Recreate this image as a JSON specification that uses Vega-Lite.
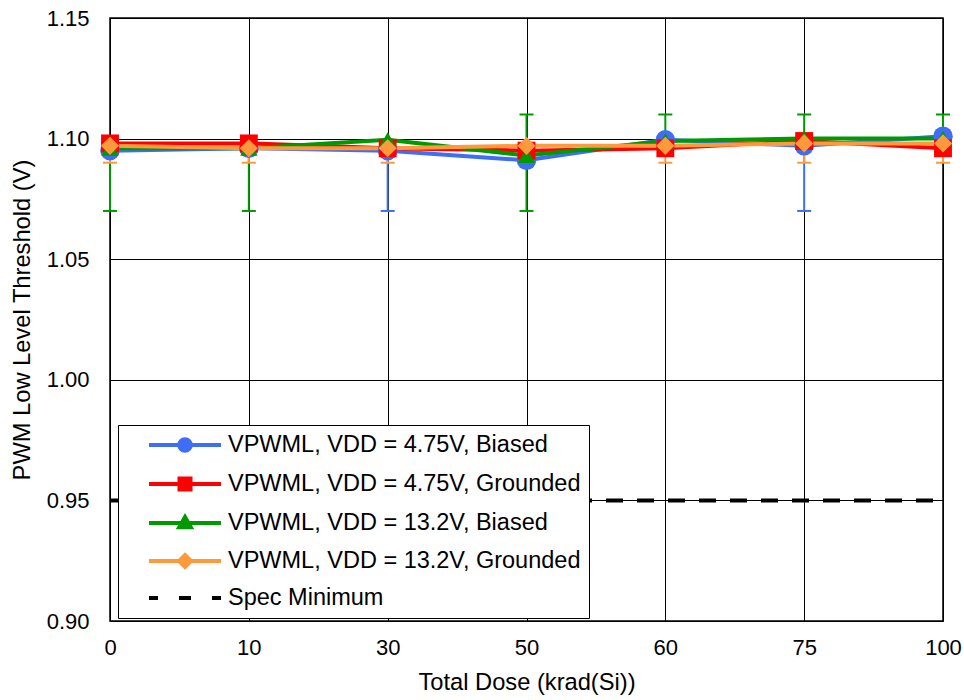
{
  "$schema": "https://vega.github.io/schema/vega-lite/v6.json",
  "width": 833,
  "height": 603,
  "autosize": {"type": "none"},
  "padding": {"left": 110, "top": 18, "right": 21, "bottom": 79},
  "background": "white",
  "config": {
    "view": {"stroke": "black", "strokeWidth": 1.5},
    "font": "Liberation Sans",
    "axis": {
      "labelFont": "Liberation Sans", "labelFontSize": 22, "labelColor": "black",
      "titleFont": "Liberation Sans", "titleFontSize": 23.7, "titleColor": "black", "titleFontWeight": "normal",
      "grid": true, "gridColor": "black", "gridWidth": 1, "gridOpacity": 1,
      "ticks": false, "domain": false
    }
  },
  "datasets": {
    "main": [
      {"dose": 0, "series": "VPWML, VDD = 4.75V, Biased", "v": 1.095},
      {"dose": 10, "series": "VPWML, VDD = 4.75V, Biased", "v": 1.096},
      {"dose": 30, "series": "VPWML, VDD = 4.75V, Biased", "v": 1.095},
      {"dose": 50, "series": "VPWML, VDD = 4.75V, Biased", "v": 1.091},
      {"dose": 60, "series": "VPWML, VDD = 4.75V, Biased", "v": 1.0995},
      {"dose": 75, "series": "VPWML, VDD = 4.75V, Biased", "v": 1.097},
      {"dose": 100, "series": "VPWML, VDD = 4.75V, Biased", "v": 1.101},
      {"dose": 0, "series": "VPWML, VDD = 4.75V, Grounded", "v": 1.098},
      {"dose": 10, "series": "VPWML, VDD = 4.75V, Grounded", "v": 1.098},
      {"dose": 30, "series": "VPWML, VDD = 4.75V, Grounded", "v": 1.096},
      {"dose": 50, "series": "VPWML, VDD = 4.75V, Grounded", "v": 1.095},
      {"dose": 60, "series": "VPWML, VDD = 4.75V, Grounded", "v": 1.096},
      {"dose": 75, "series": "VPWML, VDD = 4.75V, Grounded", "v": 1.099},
      {"dose": 100, "series": "VPWML, VDD = 4.75V, Grounded", "v": 1.096},
      {"dose": 0, "series": "VPWML, VDD = 13.2V, Biased", "v": 1.096},
      {"dose": 10, "series": "VPWML, VDD = 13.2V, Biased", "v": 1.096},
      {"dose": 30, "series": "VPWML, VDD = 13.2V, Biased", "v": 1.0995},
      {"dose": 50, "series": "VPWML, VDD = 13.2V, Biased", "v": 1.093},
      {"dose": 60, "series": "VPWML, VDD = 13.2V, Biased", "v": 1.099},
      {"dose": 75, "series": "VPWML, VDD = 13.2V, Biased", "v": 1.1},
      {"dose": 100, "series": "VPWML, VDD = 13.2V, Biased", "v": 1.1},
      {"dose": 0, "series": "VPWML, VDD = 13.2V, Grounded", "v": 1.097},
      {"dose": 10, "series": "VPWML, VDD = 13.2V, Grounded", "v": 1.096},
      {"dose": 30, "series": "VPWML, VDD = 13.2V, Grounded", "v": 1.096},
      {"dose": 50, "series": "VPWML, VDD = 13.2V, Grounded", "v": 1.097},
      {"dose": 60, "series": "VPWML, VDD = 13.2V, Grounded", "v": 1.097},
      {"dose": 75, "series": "VPWML, VDD = 13.2V, Grounded", "v": 1.098},
      {"dose": 100, "series": "VPWML, VDD = 13.2V, Grounded", "v": 1.098},
      {"dose": 0, "series": "Spec Minimum", "v": 0.95},
      {"dose": 10, "series": "Spec Minimum", "v": 0.95},
      {"dose": 30, "series": "Spec Minimum", "v": 0.95},
      {"dose": 50, "series": "Spec Minimum", "v": 0.95},
      {"dose": 60, "series": "Spec Minimum", "v": 0.95},
      {"dose": 75, "series": "Spec Minimum", "v": 0.95},
      {"dose": 100, "series": "Spec Minimum", "v": 0.95}
    ],
    "err": [
      {"dose": 0, "series": "VPWML, VDD = 13.2V, Biased", "v": 1.096, "e": 1.07},
      {"dose": 0, "series": "VPWML, VDD = 13.2V, Grounded", "v": 1.097, "e": 1.09},
      {"dose": 10, "series": "VPWML, VDD = 13.2V, Biased", "v": 1.096, "e": 1.07},
      {"dose": 10, "series": "VPWML, VDD = 13.2V, Grounded", "v": 1.096, "e": 1.09},
      {"dose": 30, "series": "VPWML, VDD = 4.75V, Biased", "v": 1.095, "e": 1.07},
      {"dose": 30, "series": "VPWML, VDD = 13.2V, Grounded", "v": 1.096, "e": 1.09},
      {"dose": 50, "series": "VPWML, VDD = 13.2V, Biased", "v": 1.093, "e": 1.07},
      {"dose": 50, "series": "VPWML, VDD = 13.2V, Biased", "v": 1.093, "e": 1.11},
      {"dose": 60, "series": "VPWML, VDD = 13.2V, Biased", "v": 1.099, "e": 1.11},
      {"dose": 60, "series": "VPWML, VDD = 13.2V, Grounded", "v": 1.097, "e": 1.09},
      {"dose": 75, "series": "VPWML, VDD = 4.75V, Biased", "v": 1.097, "e": 1.07},
      {"dose": 75, "series": "VPWML, VDD = 13.2V, Biased", "v": 1.1, "e": 1.11},
      {"dose": 75, "series": "VPWML, VDD = 13.2V, Grounded", "v": 1.098, "e": 1.09},
      {"dose": 100, "series": "VPWML, VDD = 13.2V, Biased", "v": 1.1, "e": 1.11},
      {"dose": 100, "series": "VPWML, VDD = 13.2V, Grounded", "v": 1.098, "e": 1.09}
    ]
  },
  "encoding": {
    "x": {
      "field": "dose", "type": "ordinal",
      "scale": {"type": "point", "padding": 0, "domain": [0, 10, 30, 50, 60, 75, 100]},
      "axis": {"labelAngle": 0, "labelPadding": 16, "title": "Total Dose (krad(Si))", "titlePadding": 12}
    },
    "y": {
      "field": "v", "type": "quantitative",
      "scale": {"domain": [0.9, 1.15], "nice": false, "zero": false},
      "axis": {"values": [0.9, 0.95, 1.0, 1.05, 1.1, 1.15], "format": ".2f", "labelPadding": 21, "title": "PWM Low Level Threshold (V)", "titlePadding": 12}
    }
  },
  "layer": [
    {
      "data": {"name": "main"},
      "transform": [{"filter": "datum.series == 'Spec Minimum'"}],
      "mark": {"type": "line", "color": "black", "strokeWidth": 4, "strokeDash": [17, 14]},
      "encoding": {}
    },
    {
      "data": {"name": "err"},
      "mark": {"type": "rule", "strokeWidth": 2},
      "encoding": {
        "y2": {"field": "e"},
        "color": {"field": "series", "type": "nominal"}
      }
    },
    {
      "data": {"name": "err"},
      "mark": {"type": "tick", "thickness": 2, "size": 14, "opacity": 1},
      "encoding": {
        "y": {"field": "e", "type": "quantitative"},
        "color": {"field": "series", "type": "nominal"}
      }
    },
    {
      "data": {"name": "main"},
      "transform": [{"filter": "datum.series != 'Spec Minimum'"}],
      "mark": {"type": "line", "strokeWidth": 4},
      "encoding": {
        "color": {"field": "series", "type": "nominal"}
      }
    },
    {
      "data": {"name": "main"},
      "transform": [{"filter": "datum.series == 'VPWML, VDD = 4.75V, Biased'"}],
      "mark": {"type": "point", "shape": "circle", "filled": true, "opacity": 1, "size": 380},
      "encoding": {"color": {"field": "series", "type": "nominal"}}
    },
    {
      "data": {"name": "main"},
      "transform": [{"filter": "datum.series == 'VPWML, VDD = 4.75V, Grounded'"}],
      "mark": {"type": "point", "shape": "square", "filled": true, "opacity": 1, "size": 320},
      "encoding": {"color": {"field": "series", "type": "nominal"}}
    },
    {
      "data": {"name": "main"},
      "transform": [{"filter": "datum.series == 'VPWML, VDD = 13.2V, Biased'"}],
      "mark": {"type": "point", "shape": "triangle-up", "filled": true, "opacity": 1, "size": 300},
      "encoding": {"color": {"field": "series", "type": "nominal"}}
    },
    {
      "data": {"name": "main"},
      "transform": [{"filter": "datum.series == 'VPWML, VDD = 13.2V, Grounded'"}],
      "mark": {"type": "point", "shape": "diamond", "filled": true, "opacity": 1, "size": 330},
      "encoding": {"color": {"field": "series", "type": "nominal"}}
    },
    {
      "data": {"name": "main"},
      "transform": [{"filter": "datum.v < 0"}],
      "mark": {"type": "point", "filled": true, "opacity": 1, "size": 400},
      "encoding": {
        "color": {
          "field": "series", "type": "nominal",
          "scale": {
            "domain": ["VPWML, VDD = 4.75V, Biased", "VPWML, VDD = 4.75V, Grounded", "VPWML, VDD = 13.2V, Biased", "VPWML, VDD = 13.2V, Grounded", "Spec Minimum"],
            "range": ["#3d6ef5", "#ff0000", "#009a00", "#ff9a3c", "#000000"]
          },
          "legend": {
            "orient": "none", "legendX": 8, "legendY": 407, "title": null, "direction": "vertical",
            "fillColor": "white", "strokeColor": "black", "padding": 8,
            "symbolSize": 400, "symbolStrokeWidth": 4, "symbolOffset": 47,
            "labelFont": "Liberation Sans", "labelFontSize": 23.5, "labelColor": "black", "labelLimit": 0,
            "rowPadding": 11, "labelOffset": 31,
            "encode": {"symbols": {"update": {"stroke": {"value": {"expr": "scale('color', datum.value)"}}, "strokeCap": {"value": "round"}, "opacity": {"value": 1}}}}
          }
        },
        "shape": {
          "field": "series", "type": "nominal",
          "scale": {
            "domain": ["VPWML, VDD = 4.75V, Biased", "VPWML, VDD = 4.75V, Grounded", "VPWML, VDD = 13.2V, Biased", "VPWML, VDD = 13.2V, Grounded", "Spec Minimum"],
            "range": [
              "M-3.6,0H3.6M-0.58,0A0.58,0.58 0 1,1 0.58,0A0.58,0.58 0 1,1 -0.58,0Z",
              "M-3.6,0H3.6M-0.55,-0.55H0.55V0.55H-0.55Z",
              "M-3.6,0H3.6M0,-0.6L0.58,0.42H-0.58Z",
              "M-3.6,0H3.6M0,-0.6L0.6,0L0,0.6L-0.6,0Z",
              "M-3.6,0H-2.7M-0.6,0H0.6M2.7,0H3.6"
            ]
          },
          "legend": {
            "orient": "none", "legendX": 8, "legendY": 407, "title": null
          }
        }
      }
    }
  ]
}
